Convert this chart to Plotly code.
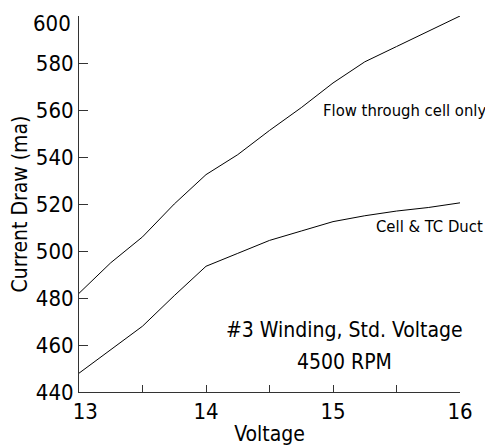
import plotly.graph_objects as go

voltage = [13, 13.25, 13.5, 13.75, 14, 14.25, 14.5, 14.75, 15, 15.25, 15.5, 15.75, 16]
flow_cell_only = [482, 495, 506, 520, 532.5, 541, 551.3, 561, 571.5, 580.5, 587, 593.5, 600]
cell_tc_duct = [448, 458, 468, 481, 493.5, 499, 504.5, 508.5, 512.5, 515, 517, 518.5, 520.5]

x_ticks = [13, 14, 15, 16]
x_tick_text = ["\u200713", "14", "15", "16"]
y_ticks = [440, 460, 480, 500, 520, 540, 560, 580, 600]
y_tick_text = ["440", "460", "480", "500", "520", "540", "560", "580", ""]
top_tick_label = "600"   # drawn slightly lowered, as in the original

FONT = "DejaVu Sans Condensed, Liberation Sans Narrow, sans-serif"

fig = go.Figure()
fig.add_trace(go.Scatter(x=voltage, y=flow_cell_only, mode="lines",
                         line=dict(color="black", width=1),
                         name="Flow through cell only"))
fig.add_trace(go.Scatter(x=voltage, y=cell_tc_duct, mode="lines",
                         line=dict(color="black", width=1),
                         name="Cell & TC Duct"))

fig.add_annotation(xref="paper", x=1.0735, y=560, xanchor="right", text="Flow through cell only",
                   showarrow=False, font=dict(family=FONT, size=16.5, color="black"))
fig.add_annotation(xref="paper", x=1.0656, y=510.6, xanchor="right", text="Cell & TC Duct",
                   showarrow=False, font=dict(family=FONT, size=16.5, color="black"))
fig.add_annotation(x=15.09, y=466.4, text="#3 Winding, Std. Voltage", showarrow=False,
                   font=dict(family=FONT, size=21, color="black"))
fig.add_annotation(x=15.09, y=452.8, text="4500 RPM", showarrow=False,
                   font=dict(family=FONT, size=21, color="black"))
fig.add_annotation(xref="paper", x=-0.017, y=y_ticks[-1], yshift=-7, xanchor="right",
                   yanchor="middle", text=top_tick_label, showarrow=False,
                   font=dict(family=FONT, size=22, color="black"))

# page body has an 8px default margin, so the figure is sized to the visible area
fig.update_layout(
    template="none",
    width=485, height=438,
    margin=dict(l=71, r=33, t=8, b=54),
    paper_bgcolor="white", plot_bgcolor="white",
    showlegend=False,
    font=dict(family=FONT, size=22, color="black"),
    xaxis=dict(range=[13, 16], tickvals=x_ticks, ticktext=x_tick_text,
               ticks="inside", ticklen=7, tickwidth=1,
               tickcolor="#333", showline=True, linecolor="#333", linewidth=1,
               showgrid=False, zeroline=False, automargin=False,
               minor=dict(ticks="inside", dtick=0.5, ticklen=7, tickwidth=1, tickcolor="#333",
                          showgrid=False),
               title=dict(text="Voltage", standoff=2, font=dict(size=21))),
    yaxis=dict(range=[440, 600], tickvals=y_ticks, ticktext=y_tick_text,
               ticks="inside", ticklen=9, tickwidth=1,
               tickcolor="#333", showline=True, linecolor="#333", linewidth=1,
               showgrid=False, zeroline=False, automargin=False,
               title=dict(text="Current Draw (ma)", standoff=12, font=dict(size=21))),
)

fig.write_html("out.html")
